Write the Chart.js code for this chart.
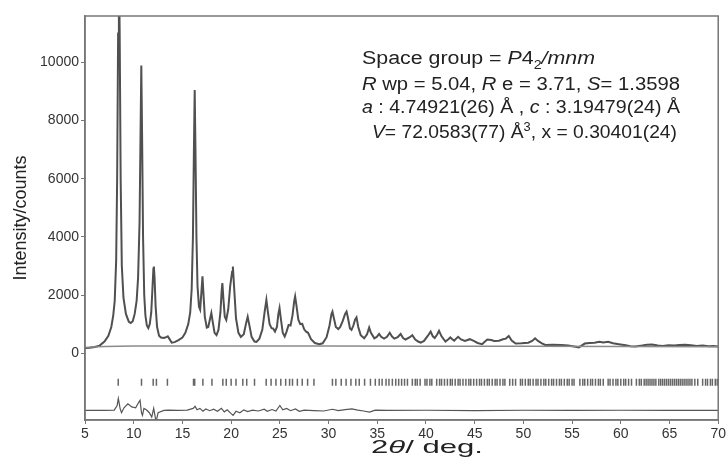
<!DOCTYPE html>
<html>
<head>
<meta charset="utf-8">
<script src="https://cdn.jsdelivr.net/npm/chart.js@4.4.1/dist/chart.umd.min.js"></script>
<style>
  body { margin: 0; background: #fff; }
  #wrap { width: 728px; height: 460px; }
</style>
</head>
<body>
<div id="wrap"><canvas id="xrd"></canvas></div>
<script>
// observed / calculated profile, 2theta (deg) and intensity (counts)
const profTheta = [5.0, 5.5, 6.0, 6.5, 7.0, 7.4, 7.7, 7.9, 8.05, 8.2, 8.3, 8.4, 8.48, 8.56, 8.66, 8.78, 8.95, 9.2, 9.5, 9.7,
  9.9, 10.1, 10.3, 10.45, 10.6, 10.7, 10.78, 10.86, 10.96, 11.08, 11.2, 11.35, 11.5, 11.65, 11.8, 11.92, 12.02, 12.07, 12.14, 12.25,
  12.4, 12.6, 12.8, 13.1, 13.4, 13.5, 13.65, 13.9, 14.2, 14.6, 15.0, 15.3, 15.6, 15.8, 15.95, 16.08, 16.18, 16.26, 16.34, 16.44,
  16.55, 16.7, 16.82, 16.95, 17.06, 17.15, 17.3, 17.5, 17.65, 17.85, 17.97, 18.1, 18.3, 18.5, 18.7, 18.9, 19.02, 19.1, 19.2, 19.35,
  19.5, 19.7, 19.9, 20.02, 20.1, 20.18, 20.3, 20.5, 20.75, 21.0, 21.3, 21.55, 21.7, 21.85, 22.1, 22.4, 22.6, 22.9, 23.2, 23.45,
  23.62, 23.78, 23.95, 24.15, 24.3, 24.5, 24.7, 24.85, 24.97, 25.1, 25.3, 25.5, 25.7, 25.9, 26.1, 26.3, 26.48, 26.57, 26.7, 26.9,
  27.1, 27.3, 27.5, 27.7, 27.9, 28.2, 28.6, 29.05, 29.4, 29.8, 30.1, 30.3, 30.4, 30.55, 30.75, 31.0, 31.2, 31.45, 31.7, 31.85,
  32.0, 32.2, 32.36, 32.55, 32.72, 32.87, 33.05, 33.3, 33.66, 33.95, 34.17, 34.35, 34.7, 34.95, 35.19, 35.4, 35.7, 36.0, 36.28, 36.5,
  36.75, 37.1, 37.4, 37.65, 37.9, 38.3, 38.6, 38.9, 39.2, 39.46, 39.8, 40.2, 40.48, 40.7, 40.9, 41.15, 41.34, 41.6, 42.0, 42.3,
  42.5, 42.7, 42.9, 43.1, 43.3, 43.6, 44.0, 44.5, 44.9, 45.3, 45.77, 46.0, 46.3, 46.7, 47.0, 47.5, 47.9, 48.2, 48.5, 48.8,
  49.2, 49.8, 50.5, 50.9, 51.2, 51.5, 51.9, 52.25, 53.0, 53.9, 54.6, 55.2, 55.7, 56.3, 56.8, 57.3, 57.8, 58.2, 58.7, 59.2,
  59.8, 60.5, 61.0, 61.5, 62.2, 62.7, 63.2, 63.8, 64.3, 64.9, 65.5, 66.0, 66.6, 67.2, 67.8, 68.4, 69.0, 69.5, 70.0];
const profCounts = [180, 190, 210, 260, 400, 600, 900, 1300, 1800, 3200, 6000, 11000, 13500, 11000, 6000, 3000, 1900, 1350, 1080, 1040,
  1100, 1350, 1800, 2600, 4500, 7500, 9900, 7500, 4000, 2000, 1300, 950, 860, 1000, 1400, 2200, 2900, 2980, 2600, 1600,
  900, 600, 540, 520, 560, 580, 500, 360, 380, 450, 540, 700, 1000, 1400, 2200, 4000, 7000, 9050, 7000, 4000,
  2300, 1600, 1500, 2100, 2640, 2100, 1250, 880, 900, 1200, 1380, 1100, 700, 620, 800, 1400, 2100, 2410, 1900, 1250,
  1140, 1500, 2300, 2600, 2800, 2980, 2300, 1200, 700, 560, 650, 1050, 1250, 1000, 560, 400, 390, 500, 800, 1450,
  1830, 1400, 1000, 860, 850, 740, 900, 1350, 1550, 1200, 700, 570, 750, 970, 950, 1300, 1800, 1950, 1650, 1150,
  1000, 1010, 820, 740, 700, 480, 350, 310, 340, 550, 950, 1350, 1430, 1200, 900, 830, 900, 1100, 1350, 1430,
  1200, 850, 800, 950, 1150, 1230, 900, 620, 510, 650, 880, 700, 510, 560, 660, 560, 500, 560, 700, 580,
  500, 550, 660, 520, 470, 540, 620, 470, 400, 360, 420, 600, 740, 580, 520, 640, 770, 580, 400, 480,
  540, 480, 430, 500, 560, 470, 420, 480, 420, 350, 310, 380, 470, 450, 420, 430, 480, 500, 590, 430,
  330, 340, 360, 420, 510, 420, 340, 280, 290, 280, 260, 230, 200, 330, 350, 360, 390, 370, 390, 340,
  310, 270, 240, 230, 260, 290, 300, 260, 250, 270, 260, 280, 290, 270, 250, 260, 240, 250, 230];

// background
const bgTheta = [5, 7, 10, 20, 30, 40, 50, 60, 70];
const bgCounts = [200, 230, 245, 245, 245, 240, 235, 228, 220];

// difference curve (offset)
const diffTheta = [5, 7, 8.0, 8.3, 8.42, 8.5, 8.6, 8.75, 9.0, 9.4, 9.8, 10.2, 10.5, 10.65, 10.8, 10.9, 11.05, 11.3, 11.6, 11.85,
  12.05, 12.3, 12.5, 13.1, 13.6, 14.5, 15.5, 16.1, 16.3, 16.5, 16.8, 17.1, 17.4, 17.8, 18.2, 18.6, 19.0, 19.3, 19.6, 20.0,
  20.2, 20.5, 20.9, 21.3, 21.7, 22.2, 22.8, 23.4, 23.7, 24.2, 24.6, 25.0, 25.3, 25.7, 26.1, 26.6, 27.0, 27.5, 28.5, 29.5,
  30.4, 31.0, 31.7, 32.4, 33.0, 33.6, 34.2, 34.8, 36, 40, 45, 50, 55, 60, 65, 70];
const diffCounts = [-1970, -1970, -1960, -1800, -1560, -1700, -1900, -2050, -1880, -1740, -1850, -1880, -1700, -1620, -2050, -2140, -1900, -1950, -2050, -2200,
  -1900, -2370, -2050, -1970, -1960, -1970, -1960, -1900, -1830, -1950, -1900, -2000, -1920, -1980, -1930, -2000, -1900, -2020, -1950, -2080,
  -2140, -2000, -2050, -1950, -2010, -1960, -1990, -1930, -2000, -1940, -1990, -1800, -1950, -1900, -1980, -1920, -2000, -1960, -1975, -1990,
  -1930, -1980, -1940, -1920, -1960, -1990, -2030, -1960, -1970, -1965, -1975, -1965, -1970, -1965, -1970, -1968];

// Bragg reflection positions
const braggTheta = [8.41, 10.8, 12.0, 12.33, 13.46, 16.14, 16.26, 17.1, 18.03, 19.15, 19.5, 20.0, 20.5, 21.2, 21.6, 22.4,
  23.6, 24.1, 24.6, 25.1, 25.6, 26.0, 26.3, 26.8, 27.3, 27.85, 28.5, 30.4, 30.75, 31.3, 31.8, 32.3, 32.8, 33.15, 33.7,
  34.3, 34.8, 35.2, 35.5, 35.9, 36.2, 36.55, 36.9, 37.2, 37.5, 37.8, 38.1, 38.6, 38.9, 39.1, 39.4, 39.9, 40.1, 40.4, 40.6,
  41.1, 41.4, 41.6, 41.9, 42.2, 42.5, 42.7, 43.0, 43.3, 43.5, 43.8, 44.1, 44.4, 44.6, 44.9, 45.2, 45.5, 45.7, 46.0, 46.3,
  46.5, 46.8, 47.1, 47.3, 47.6, 47.9, 48.1, 48.6, 48.9, 49.2, 49.7, 49.9, 50.2, 50.5, 50.7, 51.0, 51.3, 51.5, 51.8, 52.1,
  52.3, 52.6, 52.9, 53.1, 53.4, 53.7, 53.9, 54.2, 54.5, 54.7, 55.0, 55.2, 55.8, 56.1, 56.3, 56.6, 56.9, 57.1, 57.4, 57.7,
  57.9, 58.2, 58.7, 58.9, 59.2, 59.5, 59.7, 60.0, 60.3, 60.5, 60.8, 61.1, 61.6, 61.9, 62.1, 62.4, 62.6, 62.8, 63.0, 63.2,
  63.4, 63.6, 63.9, 64.1, 64.3, 64.5, 64.7, 64.9, 65.1, 65.3, 65.5, 65.7, 65.9, 66.1, 66.3, 66.5, 66.7, 66.9, 67.1, 67.3,
  67.6, 67.9, 68.4, 68.7, 68.9, 69.2, 69.4, 69.7, 69.9];
const braggLevel = -1000;

const yTickValues = [0, 2000, 4000, 6000, 8000, 10000];

// refinement summary text, [text, style]
const infoLines = [
  [['Space group = ', 'n'], ['P', 'i'], ['4', 'n'], ['2', 'sub'], ['/mnm', 'i']],
  [['R', 'i'], [' wp = 5.04, ', 'n'], ['R', 'i'], [' e = 3.71, ', 'n'], ['S', 'i'], ['= 1.3598', 'n']],
  [['a', 'i'], [' : 4.74921(26) Å , ', 'n'], ['c', 'i'], [' : 3.19479(24) Å', 'n']],
  [['V', 'i'], ['= 72.0583(77) Å', 'n'], ['3', 'sup'], [', x = 0.30401(24)', 'n']]
];

const toXY = (xs, ys) => xs.map((x, i) => ({ x: x, y: ys[i] }));

function fontFor(style, size) {
  const s = (style === 'sub' || style === 'sup') ? Math.round(size * 0.65) : size;
  return (style === 'i' ? 'italic ' : '') + s + 'px "Liberation Sans", Arial, sans-serif';
}

function drawRich(ctx, parts, x, y, width, size) {
  let total = 0;
  parts.forEach(p => { ctx.font = fontFor(p[1], size); total += ctx.measureText(p[0]).width; });
  const sx = width ? width / total : 1;
  ctx.save();
  ctx.translate(x, y);
  ctx.scale(sx, 1);
  let cx = 0;
  parts.forEach(p => {
    ctx.font = fontFor(p[1], size);
    const dy = p[1] === 'sub' ? size * 0.3 : (p[1] === 'sup' ? -size * 0.4 : 0);
    ctx.fillText(p[0], cx, dy);
    cx += ctx.measureText(p[0]).width;
  });
  ctx.restore();
}

const decor = {
  id: 'decor',
  afterDraw(chart) {
    const ctx = chart.ctx;
    const a = chart.chartArea;
    ctx.save();
    // frame
    ctx.strokeStyle = '#777';
    ctx.lineWidth = 1.5;
    ctx.strokeRect(a.left, a.top, a.right - a.left, a.bottom - a.top);
    // info block
    ctx.fillStyle = '#222';
    ctx.textBaseline = 'alphabetic';
    ctx.textAlign = 'left';
    drawRich(ctx, infoLines[0], 362, 64, 233, 18);
    drawRich(ctx, infoLines[1], 362, 90, 318, 18);
    drawRich(ctx, infoLines[2], 362, 113, 318, 18);
    drawRich(ctx, infoLines[3], 372, 138, 305, 18);
    // x axis title
    drawRich(ctx, [['2', 'n'], ['θ', 'i'], ['/ deg.', 'n']], 371, 453, 112, 19);
    ctx.restore();
  }
};

new Chart(document.getElementById('xrd'), {
  type: 'scatter',
  data: {
    datasets: [
      {
        label: 'background',
        data: toXY(bgTheta, bgCounts),
        showLine: true,
        borderColor: '#8a8a8a',
        borderWidth: 1.4,
        pointRadius: 0
      },
      {
        label: 'profile',
        data: toXY(profTheta, profCounts),
        showLine: true,
        borderColor: '#505050',
        borderWidth: 2,
        pointRadius: 0
      },
      {
        label: 'Bragg',
        data: braggTheta.map(x => ({ x: x, y: braggLevel })),
        showLine: false,
        pointStyle: 'line',
        rotation: 90,
        pointRadius: 3.5,
        borderColor: '#666',
        borderWidth: 1.5
      },
      {
        label: 'difference',
        data: toXY(diffTheta, diffCounts),
        showLine: true,
        borderColor: '#555',
        borderWidth: 1.2,
        pointRadius: 0
      }
    ]
  },
  options: {
    responsive: true,
    maintainAspectRatio: false,
    animation: false,
    layout: { padding: { top: 16, right: 7, left: 0, bottom: 0 } },
    plugins: {
      legend: { display: false },
      tooltip: { enabled: false }
    },
    scales: {
      x: {
        type: 'linear',
        min: 5,
        max: 70,
        afterFit: s => { s.height = 40; },
        ticks: { stepSize: 5, color: '#333', padding: 2, font: { size: 14, family: '"Liberation Sans", Arial' } },
        grid: { drawOnChartArea: false, tickLength: 4, tickColor: '#777' },
        border: { color: '#777', width: 1.5 }
      },
      y: {
        min: -2300,
        max: 11600,
        afterFit: s => { s.width = 85; },
        afterBuildTicks: s => { s.ticks = yTickValues.map(v => ({ value: v })); },
        ticks: {
          color: '#333',
          padding: 2,
          font: { size: 14, family: '"Liberation Sans", Arial' },
          callback: v => String(v)
        },
        grid: { drawOnChartArea: false, tickLength: 4, tickColor: '#777' },
        border: { color: '#777', width: 1.5 },
        title: {
          display: true,
          text: 'Intensity/counts',
          color: '#222',
          padding: { top: 10, bottom: 0 },
          font: { size: 18, family: '"Liberation Sans", Arial' }
        }
      }
    }
  },
  plugins: [decor]
});
</script>
</body>
</html>
